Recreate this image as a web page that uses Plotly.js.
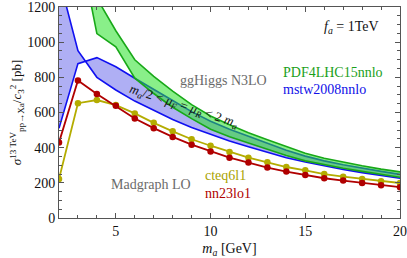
<!DOCTYPE html>
<html>
<head>
<meta charset="utf-8">
<script src="https://cdn.plot.ly/plotly-3.0.1.min.js"></script>
<style>html,body{margin:0;padding:0;background:#fff;}#chart{width:407px;height:258px;}</style>
</head>
<body>
<div id="chart"></div>
<script>
// ---- data ----
const massMG = [2,3,4,5,6,7,8,9,10,11,12,13,14,15,16,17,18,19,20];
const nn23lo1 = [430,782,705,638,566,511,461,417,378,343,315,287,264,245,226,213,199,186,175];
const cteq6l1 = [222,653,671,642,595,541,493,448,411,375,343,317,290,271,250,235,222,209,199];

const massMstw = [2,3,4,5,6,7,8,9,10,11,12,13,14,15,16,17,18,19,20];
const mstwA = [1365,952,800,728,665,612,560,515,475,438,405,373,343,318,296,276,258,242,226];
const mstwB = [510,878,912,860,795,730,668,605,550,505,465,428,385,352,325,303,283,265,248];

const massPdf = [3,4,5,6,7,8,9,10,11,12,13,14,15,16,17,18,19,20];
const pdfHi = [1800,1250,1065,900,805,722,645,580,530,485,445,405,368,340,317,297,278,262];
const pdfLo = [1590,1049,973,795,708,630,565,505,462,425,390,355,325,302,283,265,248,232];

const xTicks = [5,10,15,20];
const yTicks = [0,200,400,600,800,1000,1200];

// ---- styling ----
const FONT = "'Liberation Serif', 'Times New Roman', serif";
const BLUE = '#1010f0', BLUEFILL = 'rgba(110,110,235,0.55)';
const GREEN = '#18a818', GREENFILL = 'rgba(40,225,40,0.55)';
const RED = '#b00000', YEL = '#b4ac00';

const traces = [
  {x: massMstw, y: mstwA, mode:'lines', line:{color:BLUE, width:1.6}, hoverinfo:'skip'},
  {x: massMstw, y: mstwB, mode:'lines', line:{color:BLUE, width:1.6}, fill:'tonexty', fillcolor:BLUEFILL, hoverinfo:'skip'},
  {x: massPdf, y: pdfLo, mode:'lines', line:{color:GREEN, width:1.6}, hoverinfo:'skip'},
  {x: massPdf, y: pdfHi, mode:'lines', line:{color:GREEN, width:1.6}, fill:'tonexty', fillcolor:GREENFILL, hoverinfo:'skip'},
  {x: massMG, y: cteq6l1, mode:'lines+markers', line:{color:YEL, width:1.8}, marker:{color:YEL, size:6.5}},
  {x: massMG, y: nn23lo1, mode:'lines+markers', line:{color:RED, width:1.8}, marker:{color:RED, size:6.5}}
];

const axisCommon = {
  showgrid:false, zeroline:false, showline:true, mirror:'ticks',
  linecolor:'#555', linewidth:1, ticks:'inside', ticklen:5, tickcolor:'#555',
  ticklabeloverflow:'allow',
  tickfont:{family:FONT, size:14, color:'#111'}
};

const layout = {
  width:407, height:258,
  margin:{l:59, r:7, t:7, b:40},
  paper_bgcolor:'#fff', plot_bgcolor:'#fff',
  showlegend:false,
  font:{family:FONT, color:'#111'},
  xaxis: Object.assign({}, axisCommon, {
    range:[2,20], tickvals:xTicks, ticktext:xTicks.map(String),
    minor:{dtick:1, tick0:0, ticks:'inside', ticklen:3, tickcolor:'#555'},
    title:{text:'<i>m<sub>a</sub></i> [GeV]', font:{family:FONT, size:14, color:'#111'}, standoff:7}
  }),
  yaxis: Object.assign({}, axisCommon, {
    range:[0,1200], tickvals:yTicks, ticktext:yTicks.map(String),
    minor:{dtick:50, tick0:0, ticks:'inside', ticklen:3, tickcolor:'#555'},
    title:{text:'<i>σ</i><sup>13 TeV</sup><sub>pp→Xa</sub>/<i>c</i><sub>3</sub><sup>2</sup> [pb]', font:{family:FONT, size:13, color:'#111'}, standoff:2}
  }),
  annotations: [
    {x:17.44, y:1085, text:'<i>f<sub>a</sub></i> = 1TeV', showarrow:false, font:{family:FONT, size:14, color:'#111'}},
    {x:10.69, y:783, text:'ggHiggs N3LO', showarrow:false, font:{family:FONT, size:14, color:'#6a6a6a'}},
    {x:13.72, y:829, xanchor:'left', text:'PDF4LHC15nnlo', showarrow:false, font:{family:FONT, size:14, color:'#1aa01a'}},
    {x:13.72, y:732, xanchor:'left', text:'mstw2008nnlo', showarrow:false, font:{family:FONT, size:14, color:'#1010e8'}},
    {x:6.88, y:192, text:'Madgraph LO', showarrow:false, font:{family:FONT, size:14, color:'#6a6a6a'}},
    {x:9.6, y:243, xanchor:'left', text:'cteq6l1', showarrow:false, font:{family:FONT, size:14, color:'#aaa200'}},
    {x:9.6, y:141, xanchor:'left', text:'nn23lo1', showarrow:false, font:{family:FONT, size:14, color:'#b00000'}},
    {x:8.6, y:635, text:'<i>m<sub>a</sub></i>/2 &lt; <i>μ<sub>F</sub></i> = <i>μ<sub>R</sub></i> &lt; 2 <i>m<sub>a</sub></i>', textangle:18, showarrow:false, font:{family:FONT, size:13, color:'#111'}}
  ]
};

Plotly.newPlot('chart', traces, layout, {staticPlot:true, displayModeBar:false});
</script>
</body>
</html>
